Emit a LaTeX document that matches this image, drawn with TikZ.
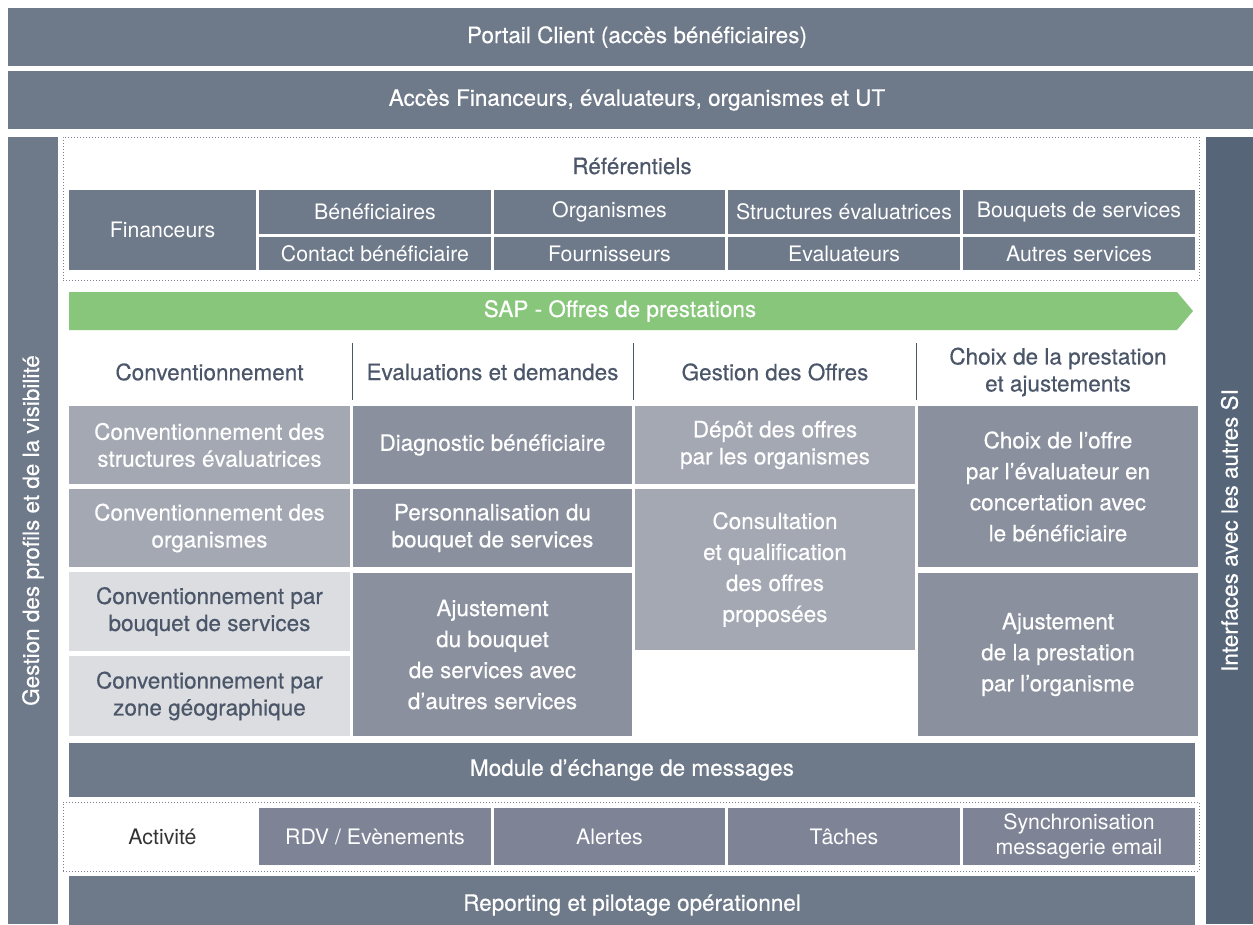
\documentclass[tikz,border=0pt]{standalone}
\usepackage{fontspec}
\setmainfont{TeX Gyre Heros}
\newfontfamily\medfont[FakeBold=0.45, Ligatures=TeX]{TeX Gyre Heros}
\definecolor{slate}{HTML}{6E7989}
\definecolor{darkslate}{HTML}{566578}
\definecolor{refgray}{HTML}{6E7989}
\definecolor{rowdark}{HTML}{8A909D}
\definecolor{rowmid}{HTML}{A3A8B3}
\definecolor{rowlight}{HTML}{DCDDE1}
\definecolor{actgray}{HTML}{7E8496}
\definecolor{sapgreen}{HTML}{88C77B}
\definecolor{headtext}{HTML}{4B5669}
\definecolor{dotgray}{HTML}{7A8290}
\begin{document}
\begin{tikzpicture}[x=1pt, y=-1pt,
    bar/.style={fill=slate, text=white, inner sep=0pt, outer sep=0pt, font=\medfont\fontsize{22.5}{27}\selectfont},
    cell/.style={text=white, inner sep=0pt, outer sep=0pt, align=center, font=\medfont\fontsize{22.5}{27}\selectfont},
    light/.style={cell, fill=refgray, font=\fontsize{21.3}{25}\selectfont},
    head/.style={text=headtext, align=center, inner sep=0pt, font=\medfont\fontsize{22.5}{27}\selectfont},
    tall/.style={font=\medfont\fontsize{22.5}{31}\selectfont},
    dotbox/.style={draw=dotgray, dotted, line width=1pt, inner sep=0pt, outer sep=0pt},
    sepline/.style={draw=headtext, line width=0.8pt}]
    \useasboundingbox (0,0) rectangle (1253,924);
    % Access bars
    \node[bar, minimum width=1258pt, minimum height=58pt] (portail) at (637,37) {Portail Client (accès bénéficiaires)};
    \node[bar, minimum width=1258pt, minimum height=58pt] (acces) at (637,100) {Accès Financeurs, évaluateurs, organismes et UT};
    % Side bars
    \node[bar, rotate=90, minimum width=787pt, minimum height=50pt] (gestion) at (33,530.5) {Gestion des profils et de la visibilité};
    \node[bar, fill=darkslate, rotate=90, minimum width=787pt, minimum height=47pt] (interfaces) at (1229.5,530.5) {Interfaces avec les autres SI};
    % Referentiels
    \node[dotbox, minimum width=1136pt, minimum height=143pt] (refbox) at (631,208.5) {};
    \node[head] (reftitle) at (632,166) {Référentiels};
    \node[light, minimum width=187pt, minimum height=80pt] (financeurs) at (162.5,230) {Financeurs};
    \node[light, minimum width=232pt, minimum height=44pt] (benef) at (375,212) {Bénéficiaires};
    \node[light, minimum width=231pt, minimum height=44pt] (organismes) at (609.5,212) {Organismes};
    \node[light, minimum width=232pt, minimum height=44pt] (structures) at (844,212) {Structures évaluatrices};
    \node[light, minimum width=232pt, minimum height=44pt] (bouquets) at (1079,212) {Bouquets de services};
    \node[light, minimum width=232pt, minimum height=33pt] (contact) at (375,253.5) {Contact bénéficiaire};
    \node[light, minimum width=231pt, minimum height=33pt] (fournisseurs) at (609.5,253.5) {Fournisseurs};
    \node[light, minimum width=232pt, minimum height=33pt] (evaluateurs) at (844,253.5) {Evaluateurs};
    \node[light, minimum width=232pt, minimum height=33pt] (autres) at (1079,253.5) {Autres services};
    % SAP arrow
    \fill[sapgreen] (69,292) -- (1177,292) -- (1193,311) -- (1177,330) -- (69,330) -- cycle;
    \node[cell] (sap) at (620,311) {SAP - Offres de prestations};
    % Column headers
    \node[head] (hconv) at (209.5,372) {Conventionnement};
    \node[head] (heval) at (492.5,372) {Evaluations et demandes};
    \node[head] (hoffres) at (775,372) {Gestion des Offres};
    \node[head] (hchoix) at (1058,372) {Choix de la prestation\\et ajustements};
    \draw[sepline] (352,343) -- (352,400);
    \draw[sepline] (633,343) -- (633,400);
    \draw[sepline] (916,343) -- (916,400);
    % Conventionnement
    \node[cell, fill=rowmid, minimum width=281pt, minimum height=78pt] (conv1) at (209.5,445) {Conventionnement des\\structures évaluatrices};
    \node[cell, fill=rowmid, minimum width=281pt, minimum height=78pt] (conv2) at (209.5,528) {Conventionnement des\\organismes};
    \node[cell, fill=rowlight, text=headtext, minimum width=281pt, minimum height=79pt] (conv3) at (209.5,611.5) {Conventionnement par\\bouquet de services};
    \node[cell, fill=rowlight, text=headtext, minimum width=281pt, minimum height=80pt] (conv4) at (209.5,696) {Conventionnement par\\zone géographique};
    % Evaluations et demandes
    \node[cell, fill=rowdark, minimum width=279pt, minimum height=78pt] (diag) at (492.5,445) {Diagnostic bénéficiaire};
    \node[cell, fill=rowdark, minimum width=279pt, minimum height=78pt] (perso) at (492.5,528) {Personnalisation du\\bouquet de services};
    \node[cell, tall, fill=rowdark, minimum width=279pt, minimum height=163pt] (ajustbouquet) at (492.5,654.5) {Ajustement\\du bouquet\\de services avec\\d’autres services};
    % Gestion des offres
    \node[cell, fill=rowmid, minimum width=280pt, minimum height=78pt] (depot) at (775,445) {Dépôt des offres\\par les organismes};
    \node[cell, tall, fill=rowmid, minimum width=280pt, minimum height=161pt] (consult) at (775,569.5) {Consultation\\et qualification\\des offres\\proposées};
    % Choix de la prestation
    \node[cell, tall, fill=rowdark, minimum width=280pt, minimum height=161pt] (choixoffre) at (1058,486.5) {Choix de l’offre\\par l’évaluateur en\\concertation avec\\le bénéficiaire};
    \node[cell, tall, fill=rowdark, minimum width=280pt, minimum height=163pt] (ajustprest) at (1058,654.5) {Ajustement\\de la prestation\\par l’organisme};
    % Messages
    \node[bar, minimum width=1126pt, minimum height=54pt] (module) at (632,770) {Module d’échange de messages};
    % Activite
    \node[dotbox, minimum width=1136pt, minimum height=69pt] (actbox) at (631,836.5) {};
    \node[cell, text=black!80, font=\fontsize{21.3}{25}\selectfont] (activite) at (162.5,836.5) {Activité};
    \node[light, fill=actgray, minimum width=232pt, minimum height=57pt] (rdv) at (375,836.5) {RDV / Evènements};
    \node[light, fill=actgray, minimum width=231pt, minimum height=57pt] (alertes) at (609.5,836.5) {Alertes};
    \node[light, fill=actgray, minimum width=232pt, minimum height=57pt] (taches) at (844,836.5) {Tâches};
    \node[light, fill=actgray, minimum width=232pt, minimum height=57pt] (synchro) at (1079,836.5) {Synchronisation\\messagerie email};
    % Reporting
    \node[bar, minimum width=1126pt, minimum height=58pt] (reporting) at (632,905) {Reporting et pilotage opérationnel};
\end{tikzpicture}
\end{document}
